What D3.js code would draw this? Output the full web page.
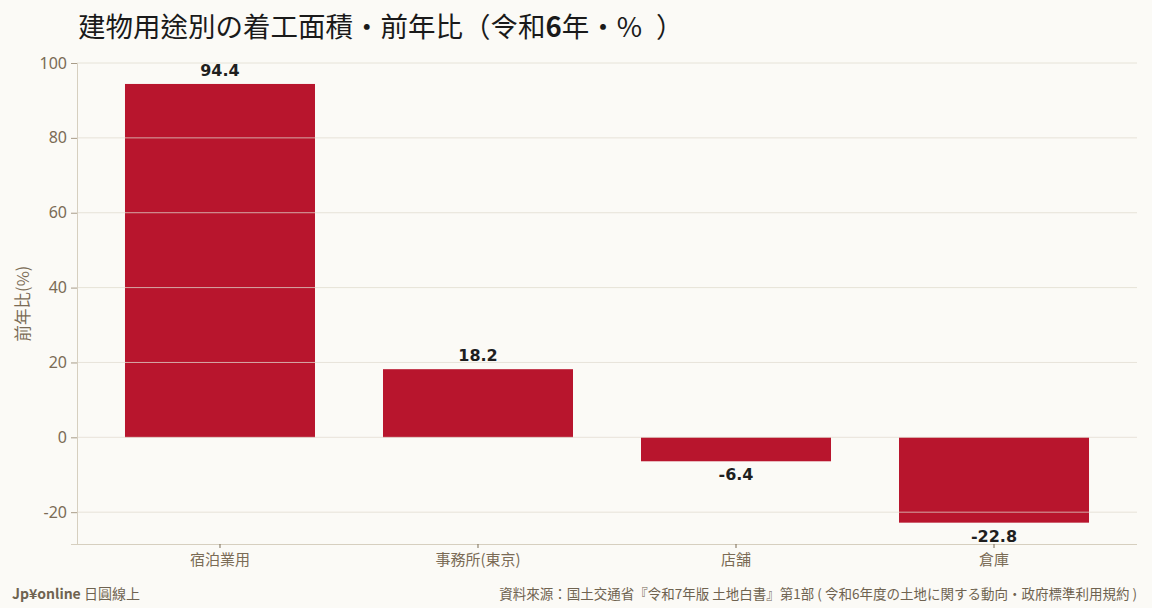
<!DOCTYPE html>
<html><head><meta charset="utf-8">
<script src="https://cdn.jsdelivr.net/npm/d3@7"></script>
<style>
html,body{margin:0;padding:0;background:#fbfaf6;}
svg{display:block;}
</style></head>
<body>
<svg id="chart" width="1152" height="608"></svg>
<script>
const categories = ["宿泊業用", "事務所(東京)", "店舗", "倉庫"];
const values = [94.4, 18.2, -6.4, -22.8];
const yTicks = [-20, 0, 20, 40, 60, 80, 100];
const yDomain = [-28.5, 100];

const W = 1152, H = 608;
const m = {left: 77, right: 15, top: 63, bottom: 64};
const svg = d3.select("#chart");
svg.append("rect").attr("width", W).attr("height", H).attr("fill", "#fbfaf6");

const x = d3.scaleBand().domain(categories).range([m.left, W - m.right])
  .paddingInner(0.2636).paddingOuter(0.186);
const y = d3.scaleLinear().domain(yDomain).range([H - m.bottom, m.top]);

const cjk = "'Noto Sans CJK TC','Noto Sans',sans-serif";
const tickColor = "#7a6b55";
const gridColor = "#e0dbcf";

// title
const title = svg.append("text").attr("x", 78).attr("y", 37)
  .attr("font-family", cjk).attr("font-size", 27.5).attr("fill", "#1a1a1a");
title.append("tspan").text("建物用途別の着工面積・前年比（令和");
title.append("tspan").attr("font-weight", "bold").text("6");
title.append("tspan").text("年・%");
title.append("tspan").attr("dx", 14).text("）");

// bars
svg.append("g").selectAll("rect").data(values).join("rect")
  .attr("x", (d, i) => x(categories[i]))
  .attr("width", x.bandwidth())
  .attr("y", d => y(Math.max(0, d)))
  .attr("height", d => Math.abs(y(d) - y(0)))
  .attr("fill", "#b8152d");

// gridlines (on top)
svg.append("g").selectAll("line").data(yTicks).join("line")
  .attr("x1", m.left).attr("x2", W - m.right)
  .attr("y1", d => y(d)).attr("y2", d => y(d))
  .attr("stroke", gridColor).attr("stroke-opacity", 0.75).attr("stroke-width", 1);

// y axis
const yAxis = svg.append("g").attr("transform", `translate(${m.left},0)`)
  .call(d3.axisLeft(y).tickValues(yTicks).tickSize(6).tickPadding(4).tickFormat(d => String(d)));
yAxis.select(".domain").attr("stroke", "#d6cfbf");
yAxis.selectAll(".tick line").attr("stroke", "#a89c88");
yAxis.selectAll(".tick text").attr("fill", tickColor).attr("font-size", 16)
  .attr("font-family", "'Noto Sans',sans-serif");

// x axis
const xAxis = svg.append("g").attr("transform", `translate(0,${H - m.bottom})`)
  .call(d3.axisBottom(x).tickSize(4).tickPadding(6).tickSizeOuter(0));
xAxis.select(".domain").attr("stroke", "#d6cfbf").attr("d", `M${m.left},0.5H${W - m.right}`);
xAxis.selectAll(".tick line").attr("stroke", "#7a6b55");
xAxis.selectAll(".tick text").attr("fill", tickColor).attr("font-size", 15)
  .attr("font-family", cjk);

// y label
svg.append("text").attr("transform", `translate(29,${(m.top + H - m.bottom) / 2}) rotate(-90)`)
  .attr("text-anchor", "middle").attr("font-family", cjk).attr("font-size", 16.5)
  .attr("fill", tickColor).text("前年比(%)");

// value labels
svg.append("g").selectAll("text").data(values).join("text")
  .attr("x", (d, i) => x(categories[i]) + x.bandwidth() / 2)
  .attr("y", d => d >= 0 ? y(d) - 8 : y(d) + 19)
  .attr("text-anchor", "middle")
  .attr("font-family", "'DejaVu Sans',sans-serif").attr("font-weight", "bold")
  .attr("font-size", 16).attr("fill", "#1f1f1f")
  .text(d => d.toFixed(1));

// footer
const fl = svg.append("text").attr("x", 12).attr("y", 599)
  .attr("font-family", cjk).attr("font-size", 14).attr("fill", "#6f6350");
fl.append("tspan").attr("font-weight", "bold").text("Jp¥online");
fl.append("tspan").text(" 日圓線上");

svg.append("text").attr("x", W - 15).attr("y", 599).attr("text-anchor", "end")
  .attr("font-family", cjk).attr("font-size", 13.5).attr("fill", "#6f6350")
  .text("資料來源：国土交通省『令和7年版 土地白書』第1部 ( 令和6年度の土地に関する動向・政府標準利用規約 )");
</script>
</body></html>
